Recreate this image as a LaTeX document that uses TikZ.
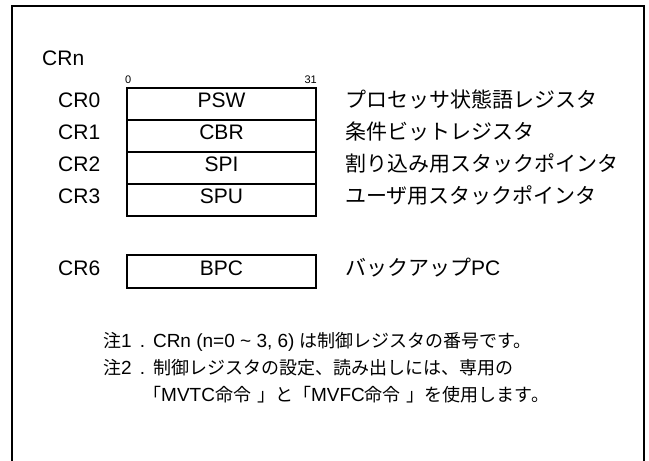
\documentclass[tikz,border=0pt]{standalone}
\usepackage{fontspec}
\setmainfont{Liberation Sans}
\newfontfamily\jp{Noto Sans CJK JP}
\newcommand{\nj}[1]{{\fontsize{18}{18}\selectfont\jp #1}}
\begin{document}
\begin{tikzpicture}[x=1pt,y=-1pt,
  lab/.style={font=\fontsize{21}{21}\selectfont, inner sep=0pt, anchor=west, text height=0.75em, text depth=0pt},
  desc/.style={font=\fontsize{21}{21}\selectfont\jp, inner sep=0pt, anchor=west, text height=0.75em, text depth=0pt},
  bit/.style={font=\fontsize{11}{11}\selectfont, inner sep=0pt, text height=0.75em, text depth=0pt},
  reg/.style={draw, line width=1.1pt, minimum width=189pt, minimum height=32pt, inner sep=0pt,
              font=\fontsize{21}{21}\selectfont, text height=0.75em, text depth=0pt},
  note/.style={font=\fontsize{19}{19}\selectfont, inner sep=0pt, anchor=west, text height=14pt, text depth=0pt}
]
\useasboundingbox (0,0) rectangle (649,461);
% outer frame (open at the bottom)
\draw[line width=2pt] (12,475) -- (12,6) -- (644,6) -- (644,475);

\node[lab] (crn) at (42,62) {CRn};
\node[bit, anchor=west] (b0) at (125,80) {0};
\node[bit, anchor=east] (b31) at (317,80) {31};

\node[reg] (psw) at (221.5,104) {PSW};
\node[reg] (cbr) at (221.5,136) {CBR};
\node[reg] (spi) at (221.5,168) {SPI};
\node[reg] (spu) at (221.5,200) {SPU};
\node[reg, minimum height=33pt] (bpc) at (221.5,271.5) {BPC};

\node[lab] (cr0) at (58,104) {CR0};
\node[lab] (cr1) at (58,136) {CR1};
\node[lab] (cr2) at (58,168) {CR2};
\node[lab] (cr3) at (58,200) {CR3};
\node[lab] (cr6) at (58,271.5) {CR6};

\node[desc] (d0) at (345,104) {プロセッサ状態語レジスタ};
\node[desc] (d1) at (345,136) {条件ビットレジスタ};
\node[desc] (d2) at (345,168) {割り込み用スタックポインタ};
\node[desc] (d3) at (345,200) {ユーザ用スタックポインタ};
\node[desc] (d6) at (345,271.5) {バックアップ\rmfamily PC};

\node[note] (n1) at (103,340) {\nj{注}1\hspace{8pt}.\hspace{8pt}CRn (n=0 \char"007E{} 3, 6)\hspace{5pt}\nj{は制御レジスタの番号です。}};
\node[note] (n2) at (103,367) {\nj{注}2\hspace{8pt}.\hspace{8pt}\nj{制御レジスタの設定、読み出しには、専用の}};
\node[note] (n3) at (143,394) {\nj{「}MVTC\nj{命令}\hspace{6pt}\nj{」と「}MVFC\nj{命令}\hspace{6pt}\nj{」を使用します。}};
\end{tikzpicture}
\end{document}
